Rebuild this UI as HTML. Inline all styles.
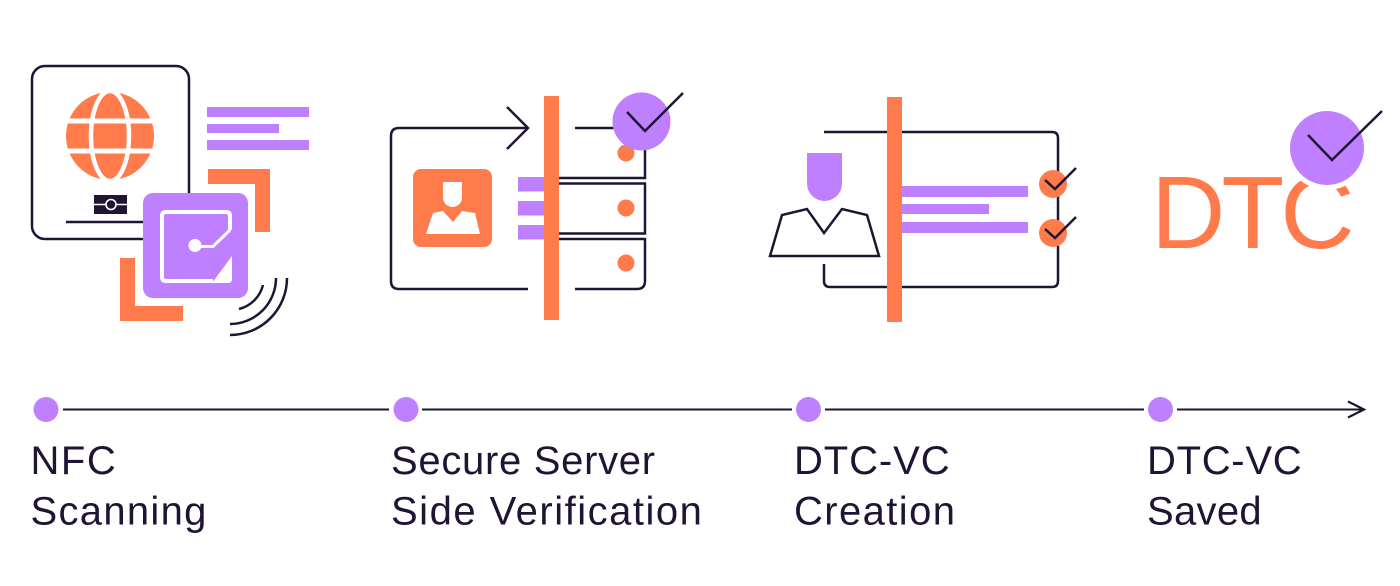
<!DOCTYPE html>
<html>
<head>
<meta charset="utf-8">
<style>
  html,body{margin:0;padding:0;background:#fff;}
  svg{display:block;}
  .lbl{font-family:"Liberation Sans",Arial,sans-serif;font-size:40px;fill:#1f1434;letter-spacing:1.5px;}
</style>
</head>
<body>
<svg width="1400" height="586" viewBox="0 0 1400 586" xmlns="http://www.w3.org/2000/svg">
  <rect width="1400" height="586" fill="#fff"/>

  <!-- ============ ICON 1: NFC Scanning ============ -->
  <rect x="32" y="66" width="157" height="173" rx="13" fill="none" stroke="#1f1434" stroke-width="2.5"/>
  <circle cx="110" cy="136" r="44" fill="#ff7b4c"/>
  <ellipse cx="110" cy="136" rx="19" ry="45" fill="none" stroke="#fff" stroke-width="4.5"/>
  <rect x="64" y="118.5" width="92" height="5" fill="#fff"/>
  <rect x="64" y="148.5" width="92" height="5" fill="#fff"/>
  <rect x="94" y="195" width="33" height="19" fill="#1f1434"/>
  <line x1="94" y1="204.5" x2="127" y2="204.5" stroke="#fff" stroke-width="1.5"/>
  <circle cx="111" cy="204.5" r="5" fill="#1f1434" stroke="#fff" stroke-width="1.6"/>
  <line x1="66" y1="222" x2="150" y2="222" stroke="#1f1434" stroke-width="2.5"/>
  <rect x="207" y="107" width="102" height="10" fill="#bf80ff"/>
  <rect x="207" y="124" width="72" height="9" fill="#bf80ff"/>
  <rect x="207" y="140" width="102" height="10" fill="#bf80ff"/>
  <path d="M208,176.5 H262.5 V232" fill="none" stroke="#ff7b4c" stroke-width="15"/>
  <path d="M127.5,258 V313.5 H183" fill="none" stroke="#ff7b4c" stroke-width="15"/>
  <rect x="143" y="193" width="105" height="105" rx="10" fill="#bf80ff"/>
  <path d="M230,230 V216 Q230,212 226,212 H166 Q162,212 162,216 V277 Q162,281 166,281 H213" fill="none" stroke="#fff" stroke-width="4"/>
  <path d="M212,283 L232,256 V279 Q232,283 228,283 Z" fill="#fff"/>
  <path d="M195,246.5 H213 L230,230" fill="none" stroke="#fff" stroke-width="3"/>
  <circle cx="195" cy="245.5" r="6.5" fill="#fff"/>
  <path d="M287,278 A57,57 0 0 1 230,335" fill="none" stroke="#1f1434" stroke-width="2.5"/>
  <path d="M276,278 A46,46 0 0 1 230,324" fill="none" stroke="#1f1434" stroke-width="2.5"/>
  <path d="M263,285 A33,33 0 0 1 239,309" fill="none" stroke="#1f1434" stroke-width="2.5"/>

  <!-- ============ ICON 2: Secure Server ============ -->
  <path d="M528,128 H399 Q391,128 391,136 V281 Q391,289 399,289 H528" fill="none" stroke="#1f1434" stroke-width="2.5"/>
  <path d="M507,107 L528,128 L507,149" fill="none" stroke="#1f1434" stroke-width="2.5"/>
  <rect x="413" y="169" width="79" height="78" rx="8" fill="#ff7b4c"/>
  <path d="M443,182 H462 V197.5 A9.5,9.5 0 0 1 443,197.5 Z" fill="#fff"/>
  <path d="M426,234 L433,213 L443,211 L453,222 L462,211 L475,213 L480,234 Z" fill="#fff"/>
  <rect x="518" y="177" width="27" height="14.5" fill="#bf80ff"/>
  <rect x="518" y="201" width="27" height="14.5" fill="#bf80ff"/>
  <rect x="518" y="225" width="27" height="14.5" fill="#bf80ff"/>
  <path d="M575,128 H639 Q645,128 645,134 V178 H555" fill="none" stroke="#1f1434" stroke-width="2.5"/>
  <path d="M555,183.5 H645 V233.5 H555" fill="none" stroke="#1f1434" stroke-width="2.5"/>
  <path d="M555,239 H645 V281 Q645,289 637,289 H575" fill="none" stroke="#1f1434" stroke-width="2.5"/>
  <circle cx="626" cy="153" r="8.5" fill="#ff7b4c"/>
  <circle cx="626" cy="208" r="8.5" fill="#ff7b4c"/>
  <circle cx="626" cy="263" r="8.5" fill="#ff7b4c"/>
  <rect x="544" y="96" width="15" height="224" fill="#ff7b4c"/>
  <circle cx="641.5" cy="121.5" r="29" fill="#bf80ff"/>
  <path d="M627,112 L645,131 L683,93" fill="none" stroke="#1f1434" stroke-width="2.5"/>

  <!-- ============ ICON 3: DTC-VC Creation ============ -->
  <path d="M824,132 H1052 Q1058,132 1058,138 V281 Q1058,287 1052,287 H830 Q824,287 824,281 V264" fill="none" stroke="#1f1434" stroke-width="2.5"/>
  <rect x="902" y="186" width="126" height="11" fill="#bf80ff"/>
  <rect x="902" y="204" width="87" height="10" fill="#bf80ff"/>
  <rect x="902" y="222" width="126" height="11" fill="#bf80ff"/>
  <rect x="887" y="97" width="15" height="225" fill="#ff7b4c"/>
  <circle cx="1053" cy="184" r="14" fill="#ff7b4c"/>
  <circle cx="1053" cy="233" r="14" fill="#ff7b4c"/>
  <path d="M1045,180 L1055,189 L1076,168" fill="none" stroke="#1f1434" stroke-width="2.5"/>
  <path d="M1045,229 L1055,238 L1076,217" fill="none" stroke="#1f1434" stroke-width="2.5"/>
  <path d="M807,153 H842 V183.5 A17.5,17.5 0 0 1 807,183.5 Z" fill="#bf80ff"/>
  <path d="M770,256 L782,215 L807,209 L824,233 L842,209 L867,215 L879,256 Z" fill="none" stroke="#1f1434" stroke-width="2.5" stroke-linejoin="miter"/>

  <!-- ============ ICON 4: DTC Saved ============ -->
  <text x="1151" y="248" font-family="'Liberation Sans',Arial,sans-serif" font-size="103" fill="#ff7b4c" letter-spacing="-4">DTC</text>
  <circle cx="1327" cy="148" r="42" fill="#fff"/>
  <circle cx="1327" cy="148" r="37" fill="#bf80ff"/>
  <path d="M1308,135 L1332,160 L1382,111" fill="none" stroke="#1f1434" stroke-width="2.5"/>

  <!-- ============ TIMELINE ============ -->
  <g stroke="#1f1434" stroke-width="2">
    <line x1="63" y1="409.5" x2="389" y2="409.5"/>
    <line x1="422" y1="409.5" x2="792" y2="409.5"/>
    <line x1="825" y1="409.5" x2="1144" y2="409.5"/>
    <line x1="1177" y1="409.5" x2="1363" y2="409.5"/>
  </g>
  <path d="M1348,401.5 L1364,409.5 L1348,417.5" fill="none" stroke="#1f1434" stroke-width="2.2"/>
  <circle cx="46" cy="409.5" r="12.5" fill="#bf80ff"/>
  <circle cx="406" cy="409.5" r="12.5" fill="#bf80ff"/>
  <circle cx="808.5" cy="409.5" r="12.5" fill="#bf80ff"/>
  <circle cx="1160.5" cy="409.5" r="12.5" fill="#bf80ff"/>

  <!-- labels -->
  <text class="lbl" x="30.5" y="474">NFC</text>
  <text class="lbl" x="30.5" y="524.5" style="letter-spacing:1.3px">Scanning</text>
  <text class="lbl" x="391" y="474" style="letter-spacing:0.7px">Secure Server</text>
  <text class="lbl" x="391" y="524.5">Side Verification</text>
  <text class="lbl" x="794" y="474" style="letter-spacing:0.9px">DTC-VC</text>
  <text class="lbl" x="794" y="524.5" style="letter-spacing:1.4px">Creation</text>
  <text class="lbl" x="1147" y="474" style="letter-spacing:0.7px">DTC-VC</text>
  <text class="lbl" x="1147" y="524.5" style="letter-spacing:0.3px">Saved</text>
</svg>
</body>
</html>
